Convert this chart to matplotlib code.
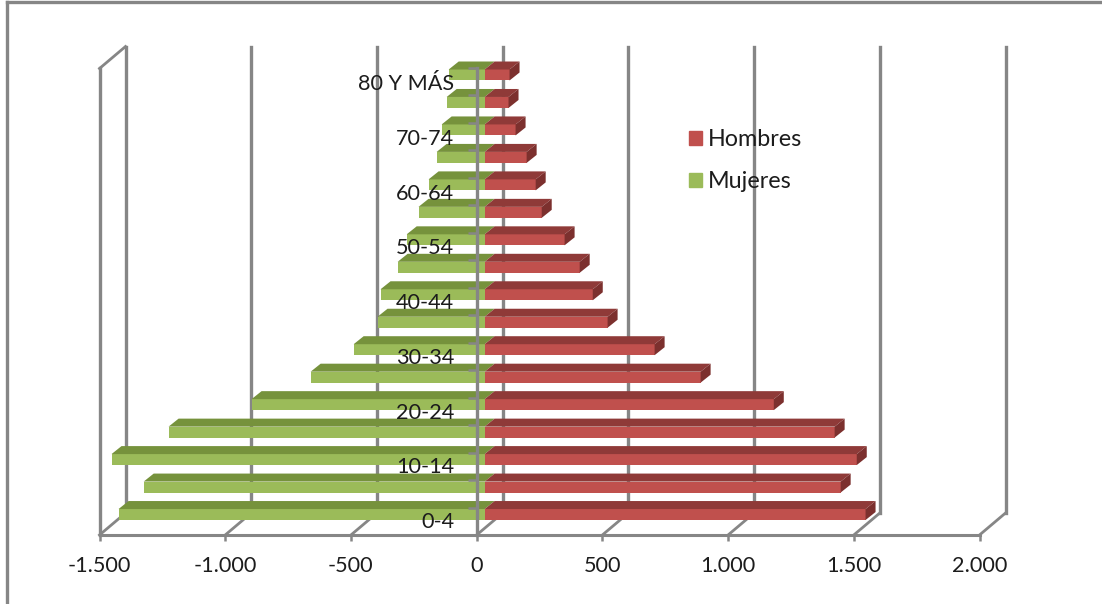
import matplotlib
matplotlib.use("Agg")
import matplotlib.pyplot as plt
from matplotlib.lines import Line2D
from matplotlib.patches import Patch

plt.rcParams["font.family"] = ["Lato", "DejaVu Sans"]

grupos = ["0-4", "5-9", "10-14", "15-19", "20-24", "25-29", "30-34", "35-39", "40-44",
          "45-49", "50-54", "55-59", "60-64", "65-69", "70-74", "75-79", "80 Y MÁS"]
hombres = [1515, 1416, 1480, 1392, 1150, 859, 676, 489, 430, 378, 318, 227, 203, 167, 123, 95, 99]
mujeres = [-1456, -1356, -1484, -1257, -927, -692, -521, -426, -414, -346, -310, -263, -223, -191, -171, -151, -143]
ticks_x = [-1500, -1000, -500, 0, 500, 1000, 1500, 2000]

GRIS = "#868686"
TEXTO = "#1c1c1c"
W, H = 1102, 604
X_PX = 880 / 3500   # pixel per unita sull'asse x
Y_PX = 27.5         # pixel per categoria


def etichetta(v):
    return f"{v:,.0f}".replace(",", ".")


def faccia(ax, xs, ys, colore):
    ax.fill(xs, ys, color=colore, lw=0, zorder=1, clip_on=False)


fig = plt.figure(figsize=(W / 100, H / 100), dpi=100)
ax = fig.add_axes([99.5 / W, 1 - 535 / H, 880 / W, (535 - 68) / H])
ax.set_xlim(-1500, 2000)
y0 = -20.5 / Y_PX
y1 = (514.5 - 68) / Y_PX
ax.set_ylim(y0, y1)
ax.set_axisbelow(False)

# pareti: griglia sul fondo e linee del pavimento
dx_muro = 26 / X_PX
dy_muro = 22 / Y_PX
for t in ticks_x:
    ax.plot([t + dx_muro, t + dx_muro], [y0 + dy_muro, y1 + dy_muro], color=GRIS, lw=2.4, zorder=0.5, clip_on=False)
    ax.plot([t, t + dx_muro], [y0, y0 + dy_muro], color=GRIS, lw=2.0, zorder=0.5, clip_on=False)
ax.plot([-1500, -1500], [y0, y1], color=GRIS, lw=2.4, zorder=0.5, clip_on=False)
ax.plot([-1500, -1500 + dx_muro], [y1, y1 + dy_muro], color=GRIS, lw=2.0, zorder=0.5, clip_on=False)

# barre finte 3d
base = 8 / X_PX
alto = 11 / Y_PX
dx = 10 / X_PX
dy = 8 / Y_PX
pos = list(range(len(grupos)))
ax.barh(pos, mujeres, left=base, height=alto, color="#9BBB59", lw=0, zorder=1)
ax.barh(pos, hombres, left=base, height=alto, color="#C0504D", lw=0, zorder=1)
for i in pos:
    t = i + alto / 2
    faccia(ax, [base + mujeres[i], base, base + dx, base + mujeres[i] + dx], [t, t, t + dy, t + dy], "#76923C")
    fine = base + hombres[i]
    faccia(ax, [base, fine, fine + dx, base + dx], [t, t, t + dy, t + dy], "#8F3A38")
    faccia(ax, [fine, fine + dx, fine + dx, fine], [t, t + dy, t + dy - alto, t - alto], "#7C302E")

# asse dei valori
ax.set_xticks(ticks_x, [etichetta(t) for t in ticks_x])
ax.tick_params(axis="x", length=4.5, width=1.8, color=GRIS, labelsize=15.6, labelcolor=TEXTO, pad=10.5)

# asse delle categorie sullo zero
for lato in ["top", "right"]:
    ax.spines[lato].set_visible(False)
ax.spines["bottom"].set_color(GRIS)
ax.spines["bottom"].set_linewidth(2.2)
ax.spines["left"].set_position(("data", 0))
ax.spines["left"].set_color(GRIS)
ax.spines["left"].set_linewidth(2.4)
ax.set_yticks([y0 + k for k in range(len(grupos) + 1)], [""] * (len(grupos) + 1))
ax.tick_params(axis="y", which="major", length=6.5, width=1.8, color=GRIS)
pos_et = [i * 27.4 / Y_PX - 0.2 for i in pos[::2]]
ax.set_yticks(pos_et, grupos[::2], minor=True)
ax.tick_params(axis="y", which="minor", length=0, pad=16, labelsize=15.6, labelcolor=TEXTO)

ax.legend(handles=[Patch(color="#C0504D", label="Hombres"), Patch(color="#9BBB59", label="Mujeres")],
          loc="upper left", bbox_to_anchor=(682 / W, 1 - 122 / H), bbox_transform=fig.transFigure,
          frameon=False, fontsize=16.8, labelcolor=TEXTO, handlelength=0.55, handleheight=0.55,
          handletextpad=0.26, labelspacing=0.92, borderpad=0.3, borderaxespad=0)

# bordo esterno
fig.add_artist(Line2D([7 / W, 7 / W], [0, 1 - 2 / H], color=GRIS, lw=2.4))
fig.add_artist(Line2D([7 / W, 1], [1 - 2 / H, 1 - 2 / H], color=GRIS, lw=2.4))

fig.savefig("out.png", dpi=100)
